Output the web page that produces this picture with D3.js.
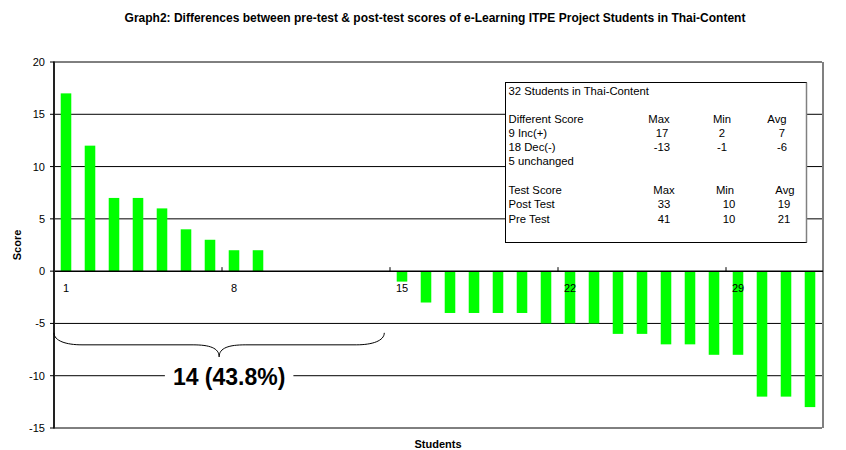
<!DOCTYPE html>
<html>
<head>
<meta charset="utf-8">
<script src="https://cdn.jsdelivr.net/npm/d3@7"></script>
<style>
  body { margin: 0; background: #fff; }
  text { font-family: Arial, "Liberation Sans", sans-serif; }
</style>
</head>
<body>
<div id="chart"></div>
<script>
// students 1..32, difference between post-test and pre-test score
var students = d3.range(1, 33)
var diffs = [17, 12, 7, 7, 6, 4, 3, 2, 2, 0, 0, 0, 0, 0,
             -1, -3, -4, -4, -4, -4, -5, -5, -5, -6, -6, -7, -7, -8, -8, -12, -12, -13]
var xLabels = [1, 8, 15, 22, 29]
var yTicks = [-15, -10, -5, 0, 5, 10, 15, 20]

// stats box
var boxTitle = "32 Students in Thai-Content"
var diffHeader = ["Different Score", "Max", "Min", "Avg"]
var diffRows = [["9 Inc(+)", "17", "2", "7"],
                ["18 Dec(-)", "-13", "-1", "-6"],
                ["5 unchanged", "", "", ""]]
var testHeader = ["Test Score", "Max", "Min", "Avg"]
var testRows = [["Post Test", "33", "10", "19"],
                ["Pre Test", "41", "10", "21"]]
var braceRange = [1, 14]
var braceText = "14 (43.8%)"

var W = 846, H = 450
var margin = {top: 62, right: 24, bottom: 22, left: 54},
    width = 768,
    height = 366

var svg = d3.select("#chart").append("svg")
    .attr("width", W).attr("height", H)

var g = svg.append("g")
    .attr("transform", "translate(" + margin.left + "," + margin.top + ")")

var x = d3.scaleBand()
    .domain(students)
    .range([0, width])
    .paddingInner(0.56)
    .paddingOuter(0.28)

var y = d3.scaleLinear()
    .domain([-15, 20])
    .range([height, 0])

// gridlines
g.selectAll(".grid")
  .data(yTicks.filter(function(d){ return d != 0 }))
  .enter().append("line")
    .attr("x1", 0).attr("x2", width)
    .attr("y1", function(d){ return y(d) }).attr("y2", function(d){ return y(d) })
    .attr("stroke", "#000").attr("stroke-width", 1)

// right border
g.append("line")
  .attr("x1", width + 1).attr("x2", width + 1)
  .attr("y1", 0).attr("y2", height)
  .attr("stroke", "#808080").attr("stroke-width", 2)

// stats box
var bx = 451.5, by = 20.5, bw = 301, bh = 160
var box = g.append("g")
box.append("rect")
  .attr("x", bx).attr("y", by).attr("width", bw).attr("height", bh)
  .attr("fill", "#fff").attr("stroke", "#000").attr("stroke-width", 1)
box.append("line")
  .attr("x1", bx + bw).attr("x2", bx + bw).attr("y1", by).attr("y2", by + bh)
  .attr("stroke", "#808080").attr("stroke-width", 1.5)

var lineH = 14.3
var col1 = [605, 668, 723], col1v = [608, 668, 728]
var col2 = [610, 671, 731], col2v = [610, 675, 730]
function row(cells, yy, cols) {
  cells.forEach(function(c, i) {
    box.append("text")
      .attr("x", i == 0 ? bx + 3 : cols[i - 1])
      .attr("y", yy)
      .attr("text-anchor", i == 0 ? "start" : "middle")
      .attr("font-size", "11.3px")
      .text(c)
  })
}
box.append("text").attr("x", bx + 3).attr("y", by + 12).attr("font-size", "11.3px").text(boxTitle)
row(diffHeader, by + 40, col1)
diffRows.forEach(function(r, i){ row(r, by + 40 + lineH * (i + 1), col1v) })
row(testHeader, by + 111.5, col2)
testRows.forEach(function(r, i){ row(r, by + 111.5 + lineH * (i + 1), col2v) })

// bars
g.selectAll(".bar")
  .data(diffs)
  .enter().append("rect")
    .attr("x", function(d, i){ return x(students[i]) })
    .attr("width", x.bandwidth())
    .attr("y", function(d){ return y(Math.max(0, d)) })
    .attr("height", function(d){ return Math.abs(y(d) - y(0)) })
    .attr("fill", "#00ff00")

// x axis line + ticks
g.append("line")
  .attr("x1", 0).attr("x2", width + 1)
  .attr("y1", y(0)).attr("y2", y(0))
  .attr("stroke", "#000").attr("stroke-width", 1.5)
g.selectAll(".xtick")
  .data(xLabels.slice(1))
  .enter().append("line")
    .attr("x1", function(d){ return x(d) - x.step() * 0.28 })
    .attr("x2", function(d){ return x(d) - x.step() * 0.28 })
    .attr("y1", y(0)).attr("y2", y(0) - 4)
    .attr("stroke", "#000")
g.selectAll(".xlab")
  .data(xLabels)
  .enter().append("text")
    .attr("x", function(d){ return x(d) + x.bandwidth() / 2 })
    .attr("y", y(0) + 21)
    .attr("text-anchor", "middle")
    .attr("font-size", "11px")
    .text(function(d){ return d })

// y axis
g.append("line")
  .attr("x1", 0).attr("x2", 0).attr("y1", -0.5).attr("y2", height + 0.5)
  .attr("stroke", "#222").attr("stroke-width", 2)
g.selectAll(".ytick")
  .data(yTicks)
  .enter().append("line")
    .attr("x1", -4).attr("x2", 0)
    .attr("y1", function(d){ return y(d) }).attr("y2", function(d){ return y(d) })
    .attr("stroke", "#000")
g.selectAll(".ylab")
  .data(yTicks)
  .enter().append("text")
    .attr("x", -9)
    .attr("y", function(d){ return y(d) + 4 })
    .attr("text-anchor", "end")
    .attr("font-size", "11px")
    .text(function(d){ return d })

// brace under students 1-14
var bx0 = 0, bx1 = x(braceRange[1]) + x.bandwidth() + 1
var bTop = y(-5.9), bMid = bTop + 12, bTip = bTop + 24
var bc = (bx0 + bx1) / 2
var brace = d3.path()
brace.moveTo(bx0, bTop)
brace.bezierCurveTo(bx0, bTop + 8, bx0 + 12, bMid, bx0 + 28, bMid)
brace.lineTo(bc - 26, bMid)
brace.bezierCurveTo(bc - 10, bMid, bc, bMid + 3, bc, bTip)
brace.bezierCurveTo(bc, bMid + 3, bc + 10, bMid, bc + 26, bMid)
brace.lineTo(bx1 - 28, bMid)
brace.bezierCurveTo(bx1 - 12, bMid, bx1, bTop + 8, bx1, bTop)
g.append("path")
  .attr("d", brace.toString())
  .attr("fill", "none").attr("stroke", "#000").attr("stroke-width", 1)

var bt = g.append("text")
  .attr("x", bc + 10)
  .attr("y", y(-10) + 9)
  .attr("text-anchor", "middle")
  .attr("font-size", "23px").attr("font-weight", "bold")
  .text(braceText)
var bb = bt.node().getBBox()
g.insert("rect", function(){ return bt.node() })
  .attr("x", bb.x - 8).attr("y", bb.y).attr("width", bb.width + 16).attr("height", bb.height)
  .attr("fill", "#fff")

// titles
svg.append("text")
  .attr("x", 435).attr("y", 22)
  .attr("text-anchor", "middle")
  .attr("font-size", "12px").attr("font-weight", "bold")
  .text("Graph2: Differences between pre-test & post-test scores of e-Learning ITPE Project Students in Thai-Content")

svg.append("text")
  .attr("transform", "translate(21," + (margin.top + height / 2) + ") rotate(-90)")
  .attr("text-anchor", "middle")
  .attr("font-size", "11px").attr("font-weight", "bold")
  .text("Score")

svg.append("text")
  .attr("x", 438).attr("y", 448)
  .attr("text-anchor", "middle")
  .attr("font-size", "11px").attr("font-weight", "bold")
  .text("Students")
</script>
</body>
</html>
